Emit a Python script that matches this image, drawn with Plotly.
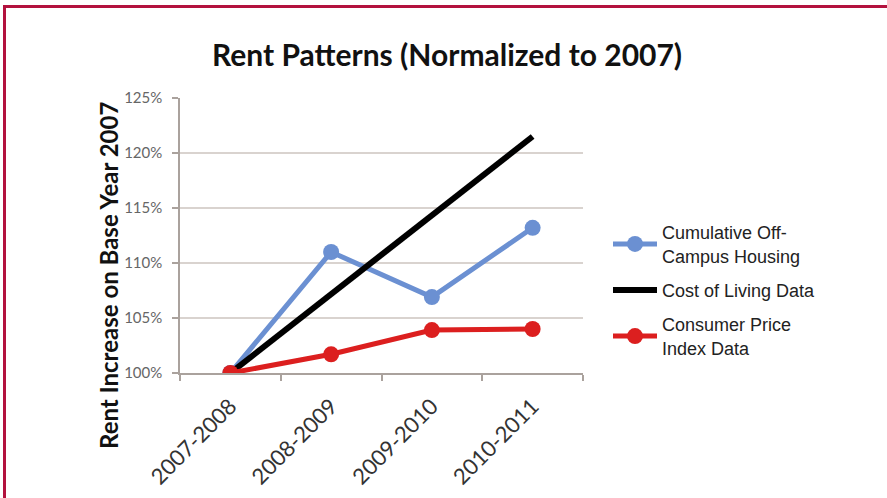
import plotly.graph_objects as go

# Rent index per academic year, normalized so 2007-2008 = 100%
periods = ["2007-2008", "2008-2009", "2009-2010", "2010-2011"]
off_campus_housing = [100.0, 111.0, 106.9, 113.2]
cost_of_living = [100.0, 107.2, 114.3, 121.5]
consumer_price_index = [100.0, 101.7, 103.9, 104.0]

y_ticks = [100, 105, 110, 115, 120, 125]
y_tick_labels = [f"{v}%" for v in y_ticks]

W, H = 887, 498
M_L, M_R, M_T, M_B = 180, 304, 98, 125
plot_w = W - M_L - M_R
plot_h = H - M_T - M_B

BLUE = "#6b90d2"
RED = "#dc1f1f"
BLACK = "#000000"
BORDER = "#b3123e"
AXIS = "#aaa29d"

fig = go.Figure()
fig.add_trace(go.Scatter(
    x=periods, y=off_campus_housing, mode="lines+markers",
    name="Cumulative Off-<br>Campus Housing", legendgroup="housing",
    line=dict(color=BLUE, width=5),
    marker=dict(color=BLUE, size=16),
))
fig.add_trace(go.Scatter(
    x=periods, y=cost_of_living, mode="lines",
    name="Cost of Living Data", legendgroup="living",
    line=dict(color=BLACK, width=6),
))
fig.add_trace(go.Scatter(
    x=periods, y=consumer_price_index, mode="lines+markers",
    name="Consumer Price<br>Index Data", legendgroup="cpi",
    line=dict(color=RED, width=5),
    marker=dict(color=RED, size=16),
))


def px_to_paper_x(px):
    return (px - M_L) / plot_w


def px_to_paper_y(py):
    return (H - M_B - py) / plot_h


# crimson frame along the top and left edges
fig.add_shape(type="line", xref="paper", yref="paper",
              x0=px_to_paper_x(3), x1=px_to_paper_x(W + 5),
              y0=px_to_paper_y(6.5), y1=px_to_paper_y(6.5),
              line=dict(color=BORDER, width=3))
fig.add_shape(type="line", xref="paper", yref="paper",
              x0=px_to_paper_x(4.5), x1=px_to_paper_x(4.5),
              y0=px_to_paper_y(5), y1=px_to_paper_y(H + 5),
              line=dict(color=BORDER, width=3))

# vertical axis caption
fig.add_annotation(
    text="<b>Rent Increase on Base Year 2007</b>",
    xref="paper", yref="paper",
    x=px_to_paper_x(108), y=px_to_paper_y(276),
    xanchor="center", yanchor="middle",
    textangle=-90, showarrow=False,
    font=dict(family="Lato", size=24, color="#111111"),
)

fig.update_layout(
    width=W, height=H,
    margin=dict(l=M_L, r=M_R, t=M_T, b=M_B),
    paper_bgcolor="white", plot_bgcolor="white",
    title=dict(
        text="<b>Rent Patterns (Normalized to 2007)</b>",
        font=dict(family="Lato", size=30, color="#111111"),
        x=447 / W, xanchor="center",
        y=1 - 55 / H, yanchor="middle",
    ),
    xaxis=dict(
        type="category", range=[-0.5, 3.5], automargin=False,
        tickson="boundaries", ticks="outside", ticklen=6,
        tickcolor=AXIS, tickwidth=1.5,
        showline=True, linecolor=AXIS, linewidth=1.5,
        showgrid=False, tickangle=-45,
        ticklabelstandoff=10,
        tickfont=dict(family="Lato", size=22, color="#333333"),
    ),
    yaxis=dict(
        range=[100, 125], tickvals=y_ticks, ticktext=y_tick_labels,
        automargin=False,
        ticks="outside", ticklen=6, tickcolor=AXIS, tickwidth=1.5,
        showline=True, linecolor=AXIS, linewidth=1.5,
        showgrid=True, gridcolor="#d9d3cf", gridwidth=1.5,
        zeroline=False, ticklabelstandoff=7,
        tickfont=dict(family="Lato", size=15, color="#666666"),
    ),
    legend=dict(
        x=px_to_paper_x(608), xanchor="left",
        y=px_to_paper_y(290), yanchor="middle",
        font=dict(family="Liberation Sans", size=18, color="#222222"),
        bgcolor="rgba(0,0,0,0)",
        traceorder="grouped", tracegroupgap=8,
        itemwidth=44,
    ),
    showlegend=True,
)

fig.write_html("out.html")
